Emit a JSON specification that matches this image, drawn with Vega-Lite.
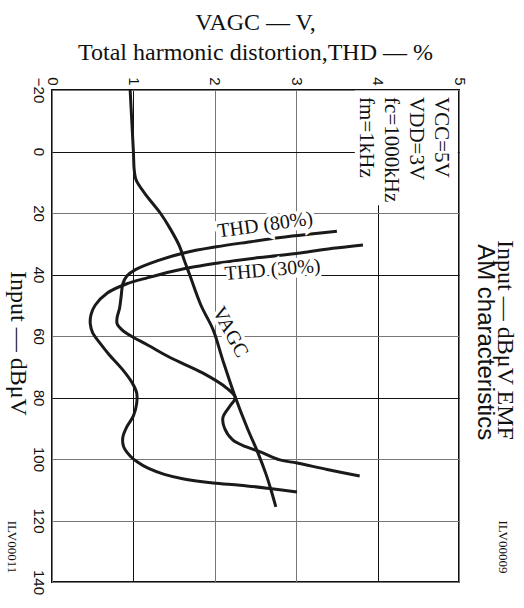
{
  "$schema": "https://vega.github.io/schema/vega-lite/v6.json",
  "width": 407,
  "height": 492,
  "autosize": {"type": "none"},
  "padding": {"left": 52, "top": 90, "right": 65, "bottom": 26},
  "background": "white",
  "config": {"view": {"stroke": "#111", "strokeWidth": 2}},
  "title": {
    "text": ["VAGC — V,", "Total harmonic distortion,THD — %"],
    "font": "Liberation Serif", "fontSize": 24, "fontWeight": "normal",
    "lineHeight": 30, "anchor": "middle", "frame": "group", "color": "#111", "offset": 12
  },
  "resolve": {"axis": {"x": "independent", "y": "independent"}},
  "data": {"values": [
    {"series": "VAGC", "input": -20, "value": 0.96},
    {"series": "VAGC", "input": -10, "value": 0.98},
    {"series": "VAGC", "input": 0, "value": 1.0},
    {"series": "VAGC", "input": 6, "value": 1.01},
    {"series": "VAGC", "input": 9, "value": 1.03},
    {"series": "VAGC", "input": 11, "value": 1.07},
    {"series": "VAGC", "input": 14, "value": 1.15},
    {"series": "VAGC", "input": 17, "value": 1.24},
    {"series": "VAGC", "input": 20, "value": 1.33},
    {"series": "VAGC", "input": 25, "value": 1.45},
    {"series": "VAGC", "input": 31, "value": 1.57},
    {"series": "VAGC", "input": 35, "value": 1.62},
    {"series": "VAGC", "input": 40, "value": 1.69},
    {"series": "VAGC", "input": 50, "value": 1.83},
    {"series": "VAGC", "input": 58, "value": 1.98},
    {"series": "VAGC", "input": 68, "value": 2.10},
    {"series": "VAGC", "input": 79, "value": 2.24},
    {"series": "VAGC", "input": 90, "value": 2.40},
    {"series": "VAGC", "input": 98, "value": 2.53},
    {"series": "VAGC", "input": 105, "value": 2.63},
    {"series": "VAGC", "input": 110, "value": 2.69},
    {"series": "VAGC", "input": 115.6, "value": 2.75},
    {"series": "THD80", "input": 25.9, "value": 3.50},
    {"series": "THD80", "input": 27.5, "value": 2.95},
    {"series": "THD80", "input": 29.5, "value": 2.40},
    {"series": "THD80", "input": 31, "value": 2.02},
    {"series": "THD80", "input": 33, "value": 1.62},
    {"series": "THD80", "input": 35.5, "value": 1.30},
    {"series": "THD80", "input": 38.5, "value": 1.02},
    {"series": "THD80", "input": 40.5, "value": 0.92},
    {"series": "THD80", "input": 43, "value": 0.87},
    {"series": "THD80", "input": 47, "value": 0.85},
    {"series": "THD80", "input": 51, "value": 0.83},
    {"series": "THD80", "input": 54, "value": 0.80},
    {"series": "THD80", "input": 56, "value": 0.80},
    {"series": "THD80", "input": 58, "value": 0.86},
    {"series": "THD80", "input": 60, "value": 0.97},
    {"series": "THD80", "input": 63, "value": 1.18},
    {"series": "THD80", "input": 67, "value": 1.45},
    {"series": "THD80", "input": 72, "value": 1.85},
    {"series": "THD80", "input": 77, "value": 2.15},
    {"series": "THD80", "input": 80, "value": 2.25},
    {"series": "THD80", "input": 83, "value": 2.18},
    {"series": "THD80", "input": 86.5, "value": 2.10},
    {"series": "THD80", "input": 90, "value": 2.12},
    {"series": "THD80", "input": 93.8, "value": 2.22},
    {"series": "THD80", "input": 96, "value": 2.38},
    {"series": "THD80", "input": 97.7, "value": 2.56},
    {"series": "THD80", "input": 100.3, "value": 2.80},
    {"series": "THD80", "input": 101.3, "value": 3.01},
    {"series": "THD80", "input": 103.4, "value": 3.38},
    {"series": "THD80", "input": 105.5, "value": 3.78},
    {"series": "THD30", "input": 30.4, "value": 3.82},
    {"series": "THD30", "input": 31.5, "value": 3.45},
    {"series": "THD30", "input": 33, "value": 3.05},
    {"series": "THD30", "input": 34.5, "value": 2.55},
    {"series": "THD30", "input": 36, "value": 2.12},
    {"series": "THD30", "input": 37.5, "value": 1.75},
    {"series": "THD30", "input": 39, "value": 1.47},
    {"series": "THD30", "input": 41, "value": 1.18},
    {"series": "THD30", "input": 43, "value": 0.92},
    {"series": "THD30", "input": 46, "value": 0.68},
    {"series": "THD30", "input": 50, "value": 0.53},
    {"series": "THD30", "input": 53, "value": 0.48},
    {"series": "THD30", "input": 56, "value": 0.47},
    {"series": "THD30", "input": 59, "value": 0.50},
    {"series": "THD30", "input": 62, "value": 0.58},
    {"series": "THD30", "input": 66, "value": 0.70},
    {"series": "THD30", "input": 71, "value": 0.87},
    {"series": "THD30", "input": 75, "value": 0.98},
    {"series": "THD30", "input": 78.5, "value": 1.04},
    {"series": "THD30", "input": 82, "value": 1.04},
    {"series": "THD30", "input": 86, "value": 1.0},
    {"series": "THD30", "input": 89.5, "value": 0.92},
    {"series": "THD30", "input": 93, "value": 0.87},
    {"series": "THD30", "input": 96, "value": 0.88},
    {"series": "THD30", "input": 99, "value": 0.96},
    {"series": "THD30", "input": 101, "value": 1.05},
    {"series": "THD30", "input": 103, "value": 1.18},
    {"series": "THD30", "input": 105, "value": 1.38},
    {"series": "THD30", "input": 106.5, "value": 1.62},
    {"series": "THD30", "input": 107.8, "value": 1.98},
    {"series": "THD30", "input": 108.5, "value": 2.31},
    {"series": "THD30", "input": 109.5, "value": 2.65},
    {"series": "THD30", "input": 110.7, "value": 3.01}
  ]},
  "layer": [
    {
      "mark": {"type": "line", "color": "#1a1a1a", "strokeWidth": 3, "interpolate": "catmull-rom"},
      "encoding": {
        "x": {
          "field": "value", "type": "quantitative",
          "scale": {"domain": [0, 5], "nice": false},
          "axis": {
            "orient": "top", "values": [0, 1, 2, 3, 4, 5], "title": null,
            "labelAngle": 90, "labelAlign": "right", "labelBaseline": "middle",
            "labelPadding": 5, "labelFlush": false, "labelOverlap": false, "labelBound": false,
            "ticks": false, "tickSize": 0, "domain": false,
            "labelFont": "Liberation Sans", "labelFontSize": 15, "labelColor": "#111",
            "gridColor": {"condition": {"test": "datum.value == 1 || datum.value == 4", "value": "#111"}, "value": "#777"},
            "gridWidth": 1, "gridOpacity": 1
          }
        },
        "y": {
          "field": "input", "type": "quantitative",
          "scale": {"domain": [-20, 140], "nice": false, "reverse": true},
          "axis": {
            "values": [-20, 0, 20, 40, 60, 80, 100, 120, 140],
            "labelAngle": 90, "labelAlign": "center", "labelBaseline": "alphabetic",
            "labelPadding": 19, "labelFlush": false, "labelOverlap": false, "labelBound": false,
            "ticks": false, "tickSize": 0, "domain": false,
            "labelFont": "Liberation Sans", "labelFontSize": 15, "labelColor": "#111",
            "gridColor": {"condition": {"test": "datum.value == 0 || datum.value == 40 || datum.value == 80", "value": "#111"}, "value": "#777"},
            "gridWidth": 1, "gridOpacity": 1,
            "title": "Input — dBμV", "titleAngle": 90, "titleFont": "Liberation Serif",
            "titleFontSize": 24, "titleFontWeight": "normal", "titleColor": "#111",
            "titleAlign": "center", "titleBaseline": "alphabetic", "titleX": -42, "titleY": 253
          }
        },
        "detail": {"field": "series"},
        "order": {"field": "input", "type": "quantitative"}
      }
    },
    {
      "data": {"values": [{}]},
      "mark": {"type": "rect", "color": "white", "opacity": 1},
      "encoding": {
        "x": {"datum": 3.72, "axis": null}, "x2": {"datum": 4.985},
        "y": {"datum": -19.8, "axis": null}, "y2": {"datum": 17.5}
      }
    },
    {
      "data": {"values": [{}]},
      "mark": {"type": "text", "text": ["VCC=5V", "VDD=3V", "fc=1000kHz", "fm=1kHz"], "angle": 90,
               "align": "left", "baseline": "alphabetic", "lineHeight": 25,
               "font": "Liberation Serif", "fontSize": 21, "color": "#111"},
      "encoding": {"x": {"datum": 4.705, "axis": null}, "y": {"datum": -17.7, "axis": null}}
    },
    {
      "data": {"values": [{}]},
      "mark": {"type": "text", "text": "THD (80%)", "angle": -8, "align": "center", "baseline": "middle",
               "font": "Liberation Serif", "fontSize": 20, "color": "white", "stroke": "white", "strokeWidth": 7},
      "encoding": {"x": {"datum": 2.62, "axis": null}, "y": {"datum": 23.9, "axis": null}}
    },
    {
      "data": {"values": [{}]},
      "mark": {"type": "text", "text": "THD (80%)", "angle": -8, "align": "center", "baseline": "middle",
               "font": "Liberation Serif", "fontSize": 20, "color": "#111"},
      "encoding": {"x": {"datum": 2.62, "axis": null}, "y": {"datum": 23.9, "axis": null}}
    },
    {
      "data": {"values": [{}]},
      "mark": {"type": "text", "text": "THD (30%)", "angle": -5, "align": "center", "baseline": "middle",
               "font": "Liberation Serif", "fontSize": 20, "color": "white", "stroke": "white", "strokeWidth": 7},
      "encoding": {"x": {"datum": 2.71, "axis": null}, "y": {"datum": 38.5, "axis": null}}
    },
    {
      "data": {"values": [{}]},
      "mark": {"type": "text", "text": "THD (30%)", "angle": -5, "align": "center", "baseline": "middle",
               "font": "Liberation Serif", "fontSize": 20, "color": "#111"},
      "encoding": {"x": {"datum": 2.71, "axis": null}, "y": {"datum": 38.5, "axis": null}}
    },
    {
      "data": {"values": [{}]},
      "mark": {"type": "text", "text": "VAGC", "angle": 62, "align": "center", "baseline": "middle",
               "font": "Liberation Serif", "fontSize": 20, "color": "white", "stroke": "white", "strokeWidth": 7},
      "encoding": {"x": {"datum": 2.19, "axis": null}, "y": {"datum": 58.7, "axis": null}}
    },
    {
      "data": {"values": [{}]},
      "mark": {"type": "text", "text": "VAGC", "angle": 62, "align": "center", "baseline": "middle",
               "font": "Liberation Serif", "fontSize": 20, "color": "#111"},
      "encoding": {"x": {"datum": 2.19, "axis": null}, "y": {"datum": 58.7, "axis": null}}
    },
    {
      "data": {"values": [{}]},
      "mark": {"type": "text", "text": "Input — dBμV EMF", "angle": 90, "align": "center", "baseline": "alphabetic",
               "font": "Liberation Serif", "fontSize": 24, "color": "#111"},
      "encoding": {"x": {"datum": 5.485, "axis": null}, "y": {"datum": 61.3, "axis": null}}
    },
    {
      "data": {"values": [{}]},
      "mark": {"type": "text", "text": "AM characteristics", "angle": 90, "align": "center", "baseline": "alphabetic",
               "font": "Liberation Sans", "fontSize": 24, "color": "#111"},
      "encoding": {"x": {"datum": 5.235, "axis": null}, "y": {"datum": 62, "axis": null}}
    },
    {
      "data": {"values": [{}]},
      "mark": {"type": "text", "text": "ILV00011", "angle": 90, "align": "center", "baseline": "alphabetic",
               "font": "Liberation Serif", "fontSize": 13, "color": "#111"},
      "encoding": {"x": {"datum": -0.54, "axis": null}, "y": {"datum": 128.6, "axis": null}}
    },
    {
      "data": {"values": [{}]},
      "mark": {"type": "text", "text": "ILV00009", "angle": 90, "align": "center", "baseline": "alphabetic",
               "font": "Liberation Serif", "fontSize": 13, "color": "#111"},
      "encoding": {"x": {"datum": 5.49, "axis": null}, "y": {"datum": 128.6, "axis": null}}
    }
  ]
}
